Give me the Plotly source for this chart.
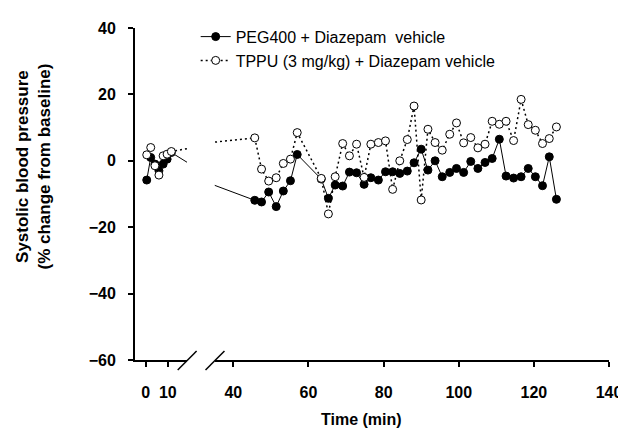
import plotly.graph_objects as go

# ---- data ----
time_min = [0.5, 2.3, 4.2, 6.0, 7.9, 9.7, 11.6,
            45.7, 47.5, 49.4, 51.4, 53.3, 55.2, 57.0, 63.4, 65.3, 67.1,
            69.1, 70.9, 72.8, 74.8, 76.6, 78.6, 80.5, 82.4, 84.3, 86.3,
            88.1, 90.0, 91.8, 93.7, 95.6, 97.6, 99.4, 101.3, 103.2, 105.1,
            107.0, 108.9, 110.8, 112.6, 114.6, 116.6, 118.5, 120.4, 122.3, 124.1, 126.0]
peg400 = [-5.8, 1.0, -1.0, -3.0, -1.0, 0.5, 2.5,
          -11.9, -12.4, -9.4, -13.8, -9.1, -6.0, 1.9, -5.5, -11.3, -7.3,
          -7.6, -3.4, -3.6, -7.1, -5.1, -5.8, -3.3, -3.3, -3.8, -3.1,
          -0.6, 3.5, -2.8, 0.0, -4.8, -3.5, -2.3, -3.5, -0.2, -2.3,
          -0.5, 0.7, 6.5, -4.6, -5.2, -4.8, -2.3, -4.8, -7.5, 1.2, -11.6]
tppu = [1.8, 4.0, -1.5, -4.3, 1.5, 2.0, 2.8,
        6.9, -2.5, -6.1, -5.1, -0.8, 0.5, 8.5, -5.3, -16.0, -4.8,
        5.2, 1.5, 5.0, -5.0, 5.0, 5.5, 6.0, -8.6, 0.0, 6.4,
        16.5, -11.8, 9.5, 5.5, 3.2, 8.0, 11.4, 5.4, 7.0, 3.9,
        5.0, 11.9, 11.0, 11.9, 6.1, 18.5, 10.9, 9.2, 5.2, 6.7, 10.2]

names = ["PEG400 + Diazepam  vehicle", "TPPU (3 mg/kg) + Diazepam vehicle"]
x_ticks_a = [0, 10]
x_ticks_b = [40, 60, 80, 100, 120, 140]
y_ticks = [-60, -40, -20, 0, 20, 40]

FONT = "Liberation Sans, Arial, sans-serif"

fig = go.Figure()
for xa, show in (("x", True), ("x2", False)):
    fig.add_trace(go.Scatter(
        x=time_min, y=peg400, xaxis=xa, yaxis="y", name=names[0],
        mode="lines+markers", showlegend=show,
        line=dict(color="black", width=1),
        marker=dict(symbol="circle", size=8, color="black",
                    line=dict(color="black", width=1))))
for xa, show in (("x", True), ("x2", False)):
    fig.add_trace(go.Scatter(
        x=time_min, y=tppu, xaxis=xa, yaxis="y", name=names[1],
        mode="lines+markers", showlegend=show,
        line=dict(color="black", width=1.5, dash="2px,3px"),
        marker=dict(symbol="circle", size=8, color="white",
                    line=dict(color="black", width=1))))

axis_common = dict(showline=True, linecolor="black", linewidth=2,
                   ticks="outside", ticklen=5, tickwidth=2, tickcolor="black",
                   showgrid=False, zeroline=False,
                   tickfont=dict(family=FONT, size=16, color="black", weight="bold"))

fig.update_layout(
    width=626, height=431,
    margin=dict(l=127, r=22, t=19, b=79),
    paper_bgcolor="white", plot_bgcolor="white",
    font=dict(family=FONT, color="black"),
    xaxis=dict(domain=[0, 0.1096], range=[-4.8, 18.65], tickvals=x_ticks_a,
               anchor="y", ticklabelstandoff=12, **axis_common),
    xaxis2=dict(domain=[0.1683, 1], range=[35.05, 140], tickvals=x_ticks_b,
                anchor="y", ticklabelstandoff=12, **axis_common),
    yaxis=dict(range=[-60, 40], tickvals=y_ticks, ticklabelstandoff=9,
               **axis_common),
    legend=dict(x=0.128, y=1.025, xanchor="left", yanchor="top",
                bgcolor="rgba(0,0,0,0)",
                font=dict(family=FONT, size=16, color="black"),
                tracegroupgap=0),
    showlegend=True,
)

# broken-axis slashes
for x0 in (0.0901, 0.1488):
    fig.add_shape(type="line", xref="paper", yref="paper",
                  x0=x0, y0=-0.030, x1=x0 + 0.0399, y1=0.027,
                  line=dict(color="black", width=1.5))

fig.add_annotation(text="<b>Time (min)</b>", xref="paper", yref="paper",
                   x=0.478, y=-0.18, xanchor="center", yanchor="middle",
                   showarrow=False, font=dict(family=FONT, size=16, color="black"))
fig.add_annotation(text="<b>Systolic blood pressure<br>(% change from baseline)</b>",
                   xref="paper", yref="paper", x=-0.215, y=0.583,
                   xanchor="center", yanchor="middle", textangle=-90,
                   showarrow=False, font=dict(family=FONT, size=17, color="black"))

fig.write_html("out.html")
